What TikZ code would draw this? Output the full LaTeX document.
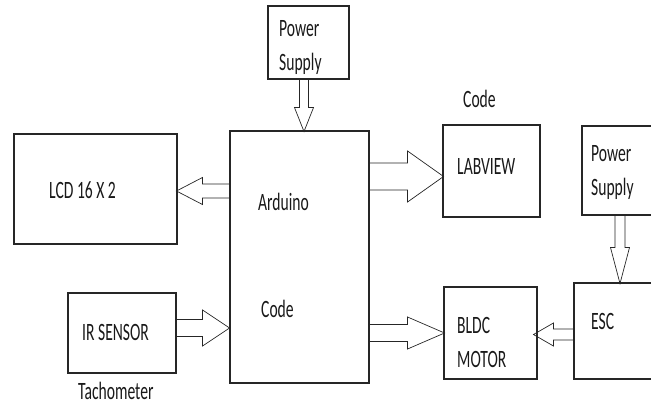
\documentclass[tikz,border=0pt]{standalone}
\usepackage{fontspec}
\setmainfont{Carlito}
\usetikzlibrary{calc}
\newcommand\lbl[1]{\scalebox{1}[1.6]{\fontsize{15.6}{20.9}\selectfont #1}}
\newcommand\lblt[1]{\scalebox{1}[1.6]{\fontsize{15.6}{20.9}\selectfont\begin{tabular}[b]{@{}l@{}}#1\end{tabular}}}
\tikzset{
  box/.style={draw=black!85, line width=1.1pt, inner sep=0pt},
  txt/.style={anchor=base west, inner sep=0pt, text=black!90},
  arrline/.style={draw=black!85, line width=0.7pt, line join=miter},
  pics/barrow/.style args={#1/#2/#3/#4}{code={
    \draw[arrline] (0,-#2) -- ({#1-#4},-#2) -- ({#1-#4},-#3) -- (#1,0)
      -- ({#1-#4},#3) -- ({#1-#4},#2) -- (0,#2);
    \draw[black!85, line width=1.2pt] (0,-#2) -- (0,#2);}}
}
\begin{document}
\begin{tikzpicture}[x=1pt,y=-1pt]
\useasboundingbox (0,0) rectangle (651,405);
% boxes
\node[box, minimum width=81, minimum height=73] (ps1) at (308.5,42.5) {};
\node[box, minimum width=139, minimum height=252] (ard) at (299.5,257) {};
\node[box, minimum width=163, minimum height=110] (lcd) at (95.5,189) {};
\node[box, minimum width=108, minimum height=80] (ir) at (122,333) {};
\node[box, minimum width=97, minimum height=92] (lab) at (491.5,171) {};
\node[box, minimum width=71, minimum height=89] (ps2) at (617.5,170.5) {};
\node[box, minimum width=79, minimum height=96] (esc) at (613.5,331) {};
\node[box, minimum width=93, minimum height=92] (bldc) at (490.5,333) {};
% labels
\node[txt] (tps1) at (279,70) {\lblt{Power\\Supply}};
\node[txt] (tlcd) at (49,198) {\lbl{LCD 16 X 2}};
\node[txt] (tard) at (258,210) {\lbl{Arduino}};
\node[txt] (tcode) at (261,317) {\lbl{Code}};
\node[txt] (tcode2) at (463,107) {\lbl{Code}};
\node[txt] (tlab) at (457,174) {\lbl{LABVIEW}};
\node[txt] (tps2) at (591,195) {\lblt{Power\\Supply}};
\node[txt] (tesc) at (591,329) {\lbl{ESC}};
\node[txt] (tbldc) at (457,367) {\lblt{BLDC\\MOTOR}};
\node[txt] (tir) at (82,340) {\lbl{IR SENSOR}};
\node[txt] (ttach) at (78,399) {\lbl{Tachometer}};
% block arrows
\pic[rotate=-90] at ($(ps1.south)+(-4.5,0)$) {barrow=52/4.5/9.5/24};
\pic[rotate=180] at ($(ard.west|-lcd.east)+(0,2)$) {barrow=53/7/13.5/26};
\pic at ($(ir.east)+(0,-5)$) {barrow=53/8.5/18/27};
\pic at ($(ard.east|-lab.west)+(0,5.5)$) {barrow=74/13.5/25.5/36};
\pic at (ard.east|-bldc.west) {barrow=75/8.5/16/37};
\pic[rotate=180] at ($(esc.west)+(0,3.5)$) {barrow=40/5.5/11.5/20};
\pic[rotate=-90] at ($(ps2.south)+(2.5,0)$) {barrow=68/5/9.5/36};
\end{tikzpicture}
\end{document}
